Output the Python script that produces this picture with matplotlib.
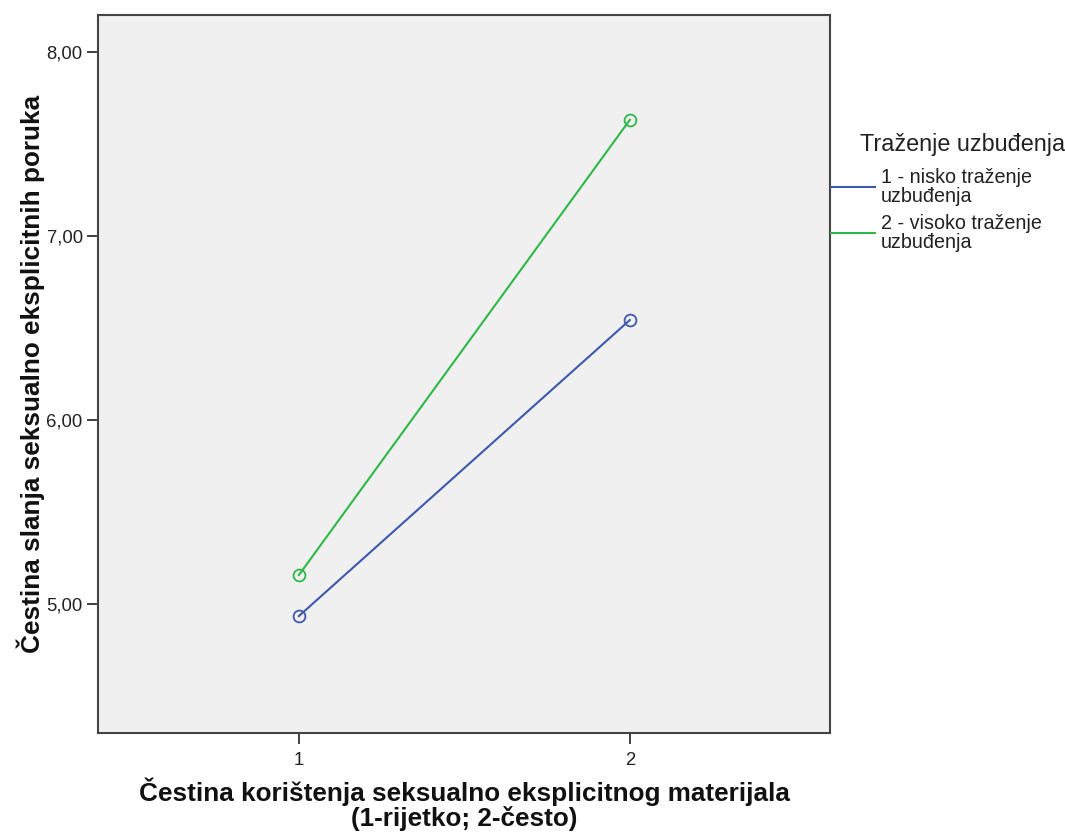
import matplotlib
matplotlib.use("Agg")
import matplotlib.pyplot as plt
from matplotlib.lines import Line2D

x_levels = [1, 2]
x_ticklabels = ["1", "2"]
low_seeking = [4.935, 6.543]
high_seeking = [5.158, 7.630]
series_labels = ["1 - nisko traženje\nuzbuđenja", "2 - visoko traženje\nuzbuđenja"]
legend_title = "Traženje uzbuđenja"
y_ticks = [5.0, 6.0, 7.0, 8.0]
y_ticklabels = ["5,00", "6,00", "7,00", "8,00"]

blue = "#3E58AC"
green = "#2EB848"

plt.rcParams['font.family'] = ['Liberation Sans', 'DejaVu Sans']

fig = plt.figure(figsize=(10.65, 8.33), dpi=100)
ax = fig.add_axes([98/1065, 100/833, 732/1065, 718/833])
ax.set_facecolor("#F0F0F0")

ax.plot(x_levels, low_seeking, color=blue, lw=1.5, marker='o', ms=8.5,
        mfc='none', mec=blue, mew=1.3)
ax.plot(x_levels, high_seeking, color=green, lw=1.5, marker='o', ms=8.5,
        mfc='none', mec=green, mew=1.3)

ax.set_xlim(0.393, 2.605)
ax.set_ylim(4.30, 8.20)
ax.set_xticks(x_levels)
ax.set_xticklabels(x_ticklabels)
ax.set_yticks(y_ticks)
ax.set_yticklabels(y_ticklabels)
ax.tick_params(axis='both', direction='out', length=8, width=1.3, color='#333333',
               labelsize=13.3, labelcolor='#222222', pad=3)
ax.tick_params(axis='x', pad=6)
for s in ax.spines.values():
    s.set_color('#444444')
    s.set_linewidth(1.5)

lab_font = dict(family=['Liberation Sans', 'DejaVu Sans'],
                fontweight='bold', fontsize=18.8, color='#111111')
ax.set_xlabel("Čestina korištenja seksualno eksplicitnog materijala\n(1-rijetko; 2-često)",
              linespacing=1.0, labelpad=6, **lab_font)
ax.set_ylabel("Čestina slanja seksualno eksplicitnih poruka", labelpad=1, **lab_font)

# legend
fig.text(860/1065, 1 - 144/833, legend_title, fontsize=16.8, color='#222222',
         va='center', ha='left')
for col, lab, yc in [(blue, series_labels[0], 187), (green, series_labels[1], 233)]:
    fig.add_artist(Line2D([831/1065, 875/1065], [1 - yc/833, 1 - yc/833], color=col, lw=1.5,
                          transform=fig.transFigure))
    fig.text(881/1065, 1 - yc/833, lab, fontsize=14.2, color='#222222',
             va='center', ha='left', linespacing=0.95)

fig.savefig("out.png", dpi=100, facecolor='white')
